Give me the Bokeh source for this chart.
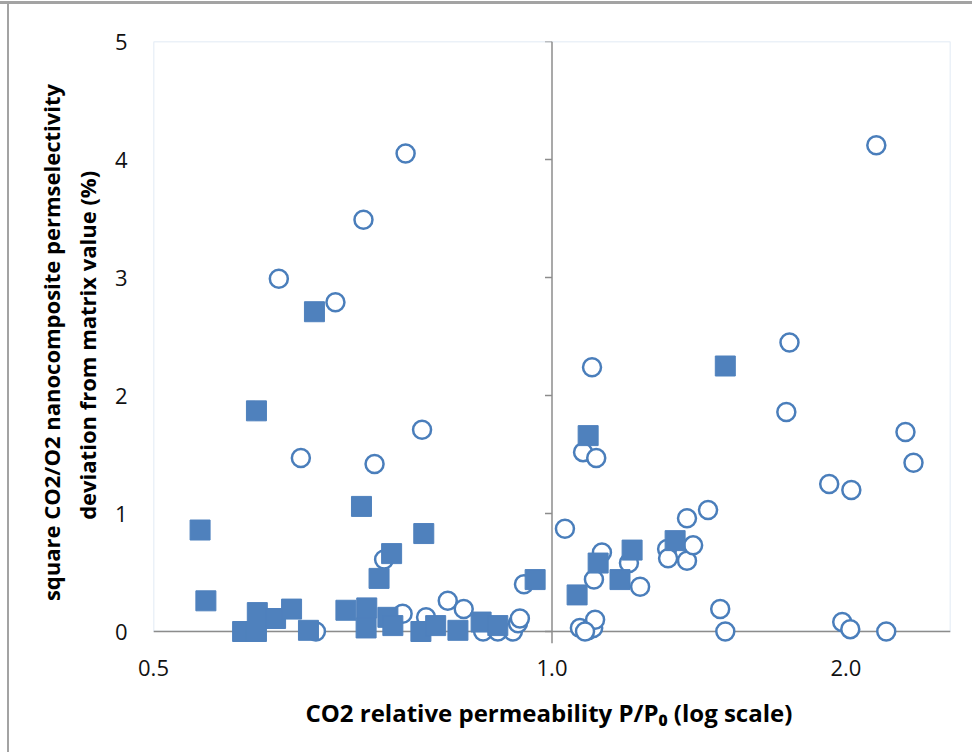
import math

from bokeh.embed import file_html
from bokeh.models import (BoxAnnotation, FixedTicker, InlineStyleSheet,
                          Range1d, Span)
from bokeh.plotting import figure
from bokeh.resources import INLINE

# Filled squares: relative CO2 permeability vs. selectivity deviation
sq_x = [0.436, 0.442, 0.498, 0.571, 0.638, 0.685, 0.665, 0.739, 0.961,
        1.089, 1.061, 1.115, 1.174, 1.208, 1.337, 1.505,
        0.482, 0.499, 0.498, 0.521, 0.541, 0.563, 0.615, 0.646, 0.645,
        0.679, 0.687, 0.734, 0.760, 0.801, 0.846, 0.880]
sq_y = [0.86, 0.26, 1.87, 2.71, 1.06, 0.66, 0.45, 0.83, 0.44,
        1.66, 0.31, 0.58, 0.44, 0.69, 0.77, 2.25,
        0.00, 0.16, 0.00, 0.11, 0.19, 0.01, 0.18, 0.20, 0.03,
        0.12, 0.05, 0.00, 0.05, 0.01, 0.08, 0.05]

# Open circles
ci_x = [0.708, 0.641, 0.525, 0.600, 0.553, 0.736, 0.658, 0.673, 0.703,
        0.782, 0.812, 0.573, 0.743, 0.850, 0.880, 0.912, 0.923, 0.927,
        0.936, 1.031, 1.076, 1.110, 1.099, 1.125, 1.199, 1.104, 1.231,
        1.068, 1.089, 1.102, 1.107, 1.081, 1.312, 1.315, 1.375, 1.395,
        1.375, 1.445, 1.487, 1.505, 1.751, 1.738, 1.923, 2.026, 1.983,
        2.021, 2.149, 2.302, 2.346, 2.200]
ci_y = [4.05, 3.49, 2.99, 2.79, 1.47, 1.71, 1.42, 0.61, 0.15,
        0.26, 0.19, 0.00, 0.12, 0.00, 0.00, 0.00, 0.07, 0.11,
        0.40, 0.87, 1.52, 1.47, 2.24, 0.67, 0.58, 0.44, 0.38,
        0.03, 0.01, 0.03, 0.10, 0.00, 0.70, 0.62, 0.60, 0.73,
        0.96, 1.03, 0.19, 0.00, 2.45, 1.86, 1.25, 1.20, 0.08,
        0.02, 4.12, 1.69, 1.43, 0.00]

# Axis extents and ticks (log axis symmetric about 1.0)
x_min, x_max = 0.390625, 2.56
y_min, y_max = 0.0, 5.0
x_tick_values = [0.390625, 1.0, 2.0]
x_tick_labels = ["0.5", "1.0", "2.0"]
y_ticks = [0, 1, 2, 3, 4, 5]

FONT = "Open Sans"
BLUE_FRAME = "#7b9fd1"
GREY_AXIS = "#8c8c8c"
MARK = "#4a7ebb"
FILL = "#4f81bd"

# a little room below zero so markers sitting on the axis are not cut off
pad = 12 / 118.0

p = figure(width=972, height=752, x_axis_type="log",
           x_range=Range1d(x_min, x_max), y_range=Range1d(y_min - pad, y_max),
           output_backend="svg", toolbar_location=None,
           min_border_left=153, min_border_right=22,
           min_border_top=41, min_border_bottom=109,
           background_fill_color="white", border_fill_color="white")
p.outline_line_color = None
p.grid.visible = False

# bottom axis: labels only; the visible axis line is drawn at y = 0
xa = p.xaxis[0]
xa.ticker = FixedTicker(ticks=x_tick_values)
xa.major_label_overrides = dict(zip(x_tick_values, x_tick_labels))
xa.major_tick_line_color = None
xa.minor_tick_line_color = None
xa.axis_line_color = None
xa.major_label_text_font = FONT
xa.major_label_text_font_size = "22px"
xa.major_label_text_color = "#111111"
xa.major_label_standoff = 10
xa.axis_label = "CO2 relative permeability P/P\u2080  (log scale)"
xa.axis_label_text_font = FONT
xa.axis_label_text_font_style = "bold"
xa.axis_label_text_font_size = "24px"
xa.axis_label_text_color = "#000000"
xa.axis_label_standoff = 17

# left axis: labels only
ya = p.yaxis[0]
ya.ticker = FixedTicker(ticks=y_ticks)
ya.major_tick_line_color = None
ya.minor_tick_line_color = None
ya.axis_line_color = None
ya.major_label_text_font = FONT
ya.major_label_text_font_size = "22px"
ya.major_label_text_color = "#111111"
ya.major_label_standoff = 20
ya.axis_label = "square CO2/O2 nanocomposite permselectivity\ndeviation from matrix value  (%)"
ya.axis_label_text_font = FONT
ya.axis_label_text_font_style = "bold"
ya.axis_label_text_font_size = "22px"
ya.axis_label_text_color = "#000000"
ya.axis_label_standoff = 10

# plot-area frame (blue) and axis lines (grey)
p.add_layout(BoxAnnotation(left=x_min, right=x_max, bottom=y_min, top=y_max,
                           fill_alpha=0, line_color=BLUE_FRAME, line_width=1.5,
                           level="underlay"))
# hide the strip of the frame below zero on the left/right edges
p.add_layout(BoxAnnotation(left=x_min, right=x_max, bottom=y_min - pad, top=y_min,
                           fill_color="white", fill_alpha=1, line_color=None,
                           level="underlay"))
p.add_layout(Span(location=0.0, dimension="width", line_color=GREY_AXIS,
                  line_width=1.5, level="underlay"))
p.add_layout(Span(location=1.0, dimension="height", line_color=GREY_AXIS,
                  line_width=1.5, level="underlay"))
p.ray(x=[1.0] * len(y_ticks), y=y_ticks, length=7, length_units="screen",
      angle=math.pi, line_color=GREY_AXIS, line_width=1.5)

# data
p.scatter(x=ci_x, y=ci_y, marker="circle", size=18, fill_color="white",
          line_color=MARK, line_width=2.5)
p.scatter(x=sq_x, y=sq_y, marker="square", size=20, fill_color=FILL,
          line_color=FILL, line_width=1)

# outer chart border
p.stylesheets = [InlineStyleSheet(css="""
:host { position: relative; }
:host::before { content: ""; position: absolute; left: 0; top: 1px; width: 100%;
                height: 3px; background: #a3a3a3; z-index: 10; pointer-events: none; }
:host::after { content: ""; position: absolute; left: 7px; top: 4px; bottom: 0;
               width: 2px; background: #a3a3a3; z-index: 10; pointer-events: none; }
""")]

open("out.html", "w").write(file_html(p, INLINE))
